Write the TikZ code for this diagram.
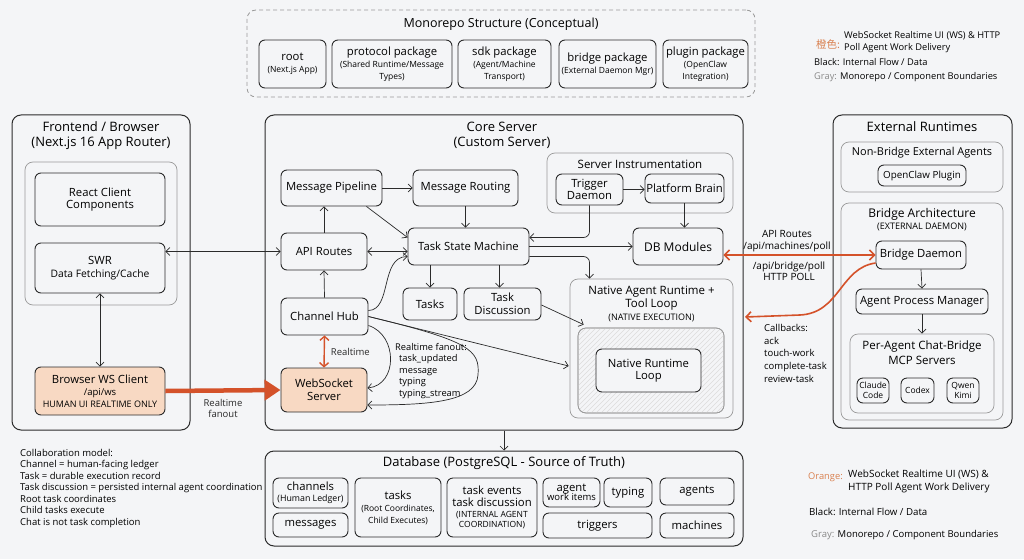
\documentclass[tikz,border=0pt]{standalone}
\usepackage{fontspec}
\setmainfont{Open Sans}
\newfontfamily\cjk{Noto Sans CJK SC}
\usepackage{xcolor}
\usetikzlibrary{arrows.meta,calc}
\definecolor{bgcol}{HTML}{F4F5F7}
\definecolor{linecol}{HTML}{2B2B2B}
\definecolor{grpcol}{HTML}{9A9A9A}
\definecolor{orng}{HTML}{D4522A}
\definecolor{orngtxt}{HTML}{D9804F}
\definecolor{peachcol}{HTML}{F8D9C3}
\definecolor{graytxt}{HTML}{8A8A8A}
\newcommand{\smalltxt}[1]{{\fontsize{8.5}{9.2}\selectfont #1}}
\newcommand{\midtxt}[1]{{\fontsize{9.5}{10.5}\selectfont #1}}

\begin{document}
\begin{tikzpicture}[x=1pt,y=-1pt,
  box/.style={draw=linecol, fill=bgcol, rounded corners=6pt, align=center, inner sep=1pt,
    line width=0.9pt, font=\fontsize{11.3}{12.5}\selectfont},
  peach/.style={box, fill=peachcol},
  grp/.style={draw=grpcol, rounded corners=8pt, line width=0.7pt},
  outer/.style={draw=linecol, rounded corners=9pt, line width=1pt},
  dashgrp/.style={draw=grpcol, rounded corners=9pt, line width=0.8pt, dash pattern=on 4pt off 3pt},
  hdr/.style={font=\fontsize{13}{14}\selectfont, inner sep=0pt},
  subhdr/.style={font=\fontsize{11.5}{13}\selectfont, inner sep=0pt},
  arr/.style={draw=linecol, line width=0.7pt, -{Straight Barb[length=4pt,width=8pt]}},
  oarr/.style={draw=orng, line width=1.6pt, -{Straight Barb[length=5pt,width=10pt]}},
  lbl/.style={font=\fontsize{9.5}{11}\selectfont, inner sep=0pt},
]
\useasboundingbox (0,0) rectangle (1024,559);
\fill[bgcol] (0,0) rectangle (1024,559);

% monorepo
\node[dashgrp, minimum width=508, minimum height=87] (mono) at (501,53.5) {};
\node[hdr, font=\fontsize{12.5}{14}\selectfont] (monot) at (501,24) {Monorepo Structure (Conceptual)};
\node[box, minimum width=67, minimum height=48] (root) at (292.5,64) {root\\\smalltxt{(Next.js App)}};
\node[box, minimum width=120, minimum height=48] (protocol) at (392,64) {protocol package\\\smalltxt{(Shared Runtime/Message}\\[-1pt]\smalltxt{Types)}};
\node[box, minimum width=93, minimum height=48] (sdk) at (504.5,64) {sdk package\\\smalltxt{(Agent/Machine}\\[-1pt]\smalltxt{Transport)}};
\node[box, minimum width=97, minimum height=48] (bridgepkg) at (607.5,64) {bridge package\\\smalltxt{(External Daemon Mgr)}};
\node[box, minimum width=85, minimum height=48] (plugin) at (705.5,64) {plugin package\\\smalltxt{(OpenClaw}\\[-1pt]\smalltxt{Integration)}};

% legend top
\node[lbl, anchor=west, text=orngtxt, font=\fontsize{10.5}{12}\selectfont] at (816,44) {\cjk 橙色:};
\node[lbl, anchor=north west, align=left, font=\fontsize{9.3}{12.5}\selectfont] at (844,31) {WebSocket Realtime UI (WS) \& HTTP\\Poll Agent Work Delivery};
\node[lbl, anchor=west, font=\fontsize{9.3}{11}\selectfont] at (814,62) {Black: Internal Flow / Data};
\node[lbl, anchor=west, font=\fontsize{9.3}{11}\selectfont] at (814,77) {\textcolor{graytxt}{Gray:} Monorepo / Component Boundaries};

% frontend
\node[outer, minimum width=178, minimum height=315] (front) at (101,272.5) {};
\node[hdr] at (101,127) {Frontend / Browser};
\node[hdr] at (101,143) {(Next.js 16 App Router)};
\node[grp, minimum width=152, minimum height=143] (fgrp) at (101,233.5) {};
\node[box, minimum width=130, minimum height=53] (react) at (100,199.5) {React Client\\Components};
\node[box, minimum width=130, minimum height=50] (swr) at (100,268) {SWR\\{\fontsize{10.3}{11.5}\selectfont Data Fetching/Cache}};
\node[peach, minimum width=130, minimum height=48] (wsc) at (100,391) {Browser WS Client\\\midtxt{/api/ws}\\[-1pt]{\fontsize{9}{10}\selectfont HUMAN UI REALTIME ONLY}};

% core server
\node[outer, minimum width=478, minimum height=315] (core) at (504,272.5) {};
\node[hdr] at (502,127) {Core Server};
\node[hdr] at (502,143) {(Custom Server)};
\node[box, minimum width=101, minimum height=36] (mp) at (331.5,188) {Message Pipeline};
\node[box, minimum width=105, minimum height=36] (mr) at (465.5,188) {Message Routing};
\node[box, minimum width=86, minimum height=37] (api) at (324,251.5) {API Routes};
\node[box, minimum width=121, minimum height=37] (tsm) at (468.5,246.5) {Task State Machine};
\node[box, minimum width=54, minimum height=32] (tasks) at (430,304) {Tasks};
\node[box, minimum width=77, minimum height=32] (td) at (502.5,304) {Task\\Discussion};
\node[box, minimum width=87, minimum height=37] (ch) at (324.5,316.5) {Channel Hub};
\node[peach, minimum width=86, minimum height=44] (wss) at (324,390) {WebSocket\\Server};

\node[grp, minimum width=186, minimum height=60] (instr) at (640,183) {};
\node[subhdr] at (640,164) {Server Instrumentation};
\node[box, minimum width=67, minimum height=31] (trig) at (589.5,189.5) {Trigger\\Daemon};
\node[box, minimum width=79, minimum height=29] (pb) at (684.5,188.5) {Platform Brain};
\node[box, minimum width=90, minimum height=37, font=\fontsize{12}{13}\selectfont] (db) at (678,246.5) {DB Modules};

\node[grp, minimum width=163, minimum height=139] (nat) at (651.5,348.5) {};
\node[subhdr] at (651.5,292) {Native Agent Runtime +};
\node[subhdr] at (651.5,305) {Tool Loop};
\node[inner sep=0pt] at (651.5,318) {{\fontsize{9}{10}\selectfont (NATIVE EXECUTION)}};
\node[grp, fill=bgcol, minimum width=146, minimum height=85] (natin) at (651,370.5) {};
\begin{scope}
\clip[rounded corners=8pt] (natin.north west) rectangle (natin.south east);
\foreach \hx in {485,490,...,730}
  \draw[grpcol!35, line width=0.4pt] (\hx,414) -- (\hx+90,324);
\end{scope}
\node[grp, minimum width=146, minimum height=85] at (natin) {};
\node[box, minimum width=105, minimum height=43] (nrl) at (648.5,370.5) {Native Runtime\\Loop};

% external runtimes
\node[outer, minimum width=179, minimum height=313] (ext) at (922.5,271.5) {};
\node[hdr] at (922,127) {External Runtimes};
\node[grp, minimum width=162, minimum height=50] (nonbr) at (922,167) {};
\node[subhdr, font=\fontsize{10.9}{12}\selectfont] at (922,153) {Non-Bridge External Agents};
\node[box, minimum width=88, minimum height=21, font=\fontsize{9.8}{11}\selectfont] (ocp) at (922,175.5) {OpenClaw Plugin};
\node[grp, minimum width=162, minimum height=217] (brarch) at (922,311.5) {};
\node[subhdr, font=\fontsize{12}{13}\selectfont] at (922,214) {Bridge Architecture};
\node[inner sep=0pt] at (922,227) {{\fontsize{9}{10}\selectfont (EXTERNAL DAEMON)}};
\node[box, minimum width=90, minimum height=28] (bd) at (921,255) {Bridge Daemon};
\node[box, minimum width=132, minimum height=25] (apm) at (922,301.5) {Agent Process Manager};
\node[grp, minimum width=144, minimum height=79] (peragent) at (922,373.5) {};
\node[subhdr] at (922,347) {Per-Agent Chat-Bridge};
\node[subhdr] at (922,360) {MCP Servers};
\node[box, minimum width=32, minimum height=25, font=\fontsize{8.5}{9.5}\selectfont] (claude) at (873,390.5) {Claude\\Code};
\node[box, minimum width=33, minimum height=25, font=\fontsize{8.5}{9.5}\selectfont] (codex) at (917.5,390.5) {Codex};
\node[box, minimum width=32, minimum height=25, font=\fontsize{8.5}{9.5}\selectfont] (qwen) at (963,390.5) {Qwen\\Kimi};

% database
\node[outer, minimum width=478, minimum height=95] (dbase) at (504,498.5) {};
\node[hdr] at (504,463) {Database (PostgreSQL - Source of Truth)};
\node[box, minimum width=75, minimum height=30] (channels) at (310.5,493) {channels\\[-2pt]{\fontsize{8.8}{9.5}\selectfont (Human Ledger)}};
\node[box, minimum width=75, minimum height=24] (messages) at (310.5,525) {messages};
\node[box, minimum width=86, minimum height=59] (taskstbl) at (398,507.5) {tasks\\\smalltxt{(Root Coordinates,}\\[-1pt]\smalltxt{Child Executes)}};
\node[box, minimum width=90, minimum height=59] (tev) at (492,507.5) {task events\\task discussion\\[-2pt]\smalltxt{(INTERNAL AGENT}\\[-2pt]\smalltxt{COORDINATION)}};
\node[box, minimum width=57, minimum height=29] (awi) at (571.5,492.5) {agent\\[-3pt]\midtxt{work items}};
\node[box, minimum width=48, minimum height=29] (typing) at (628,492.5) {typing};
\node[box, minimum width=74, minimum height=27] (agents) at (697,491.5) {agents};
\node[box, minimum width=109, minimum height=25] (triggers) at (597.5,525.5) {triggers};
\node[box, minimum width=74, minimum height=25] (machines) at (697,525.5) {machines};

% notes
\node[anchor=north west, align=left, inner sep=0pt, font=\fontsize{9.5}{11.5}\selectfont] (collab) at (20,449) {Collaboration model:\\Channel = human-facing ledger\\Task = durable execution record\\Task discussion = persisted internal agent coordination\\Root task coordinates\\Child tasks execute\\Chat is not task completion};
\node[lbl, anchor=west, text=orngtxt, font=\fontsize{9.3}{11}\selectfont] at (808,477) {Orange:};
\node[lbl, anchor=north west, align=left, font=\fontsize{10}{13}\selectfont] at (848,470) {WebSocket Realtime UI (WS) \&\\HTTP Poll Agent Work Delivery};
\node[lbl, anchor=west, font=\fontsize{9.7}{11}\selectfont] at (809,512) {Black: Internal Flow / Data};
\node[lbl, anchor=west, font=\fontsize{9.5}{11}\selectfont] at (811,535) {\textcolor{graytxt}{Gray:} Monorepo / Component Boundaries};

% frontend arrows
\draw[arr, {Straight Barb[length=4pt,width=8pt]}-{Straight Barb[length=4pt,width=8pt]}] (swr.south) -- (wsc.north);
\draw[arr, {Straight Barb[length=4pt,width=8pt]}-{Straight Barb[length=4pt,width=8pt]}] (swr.east |- api.west) -- (api.west);
\draw[draw=orng, line width=4.5pt, -{Triangle[length=16pt,width=20pt]}] (wsc.east) -- (wss.west)
  node[midway, below=7pt, lbl, align=center, text=linecol] {Realtime\\fanout};

% core arrows
\draw[arr] (ch.north) -- (api.south);
\draw[arr] (api.north) -- (api.north |- mp.south);
\draw[arr] (mp.east) -- (mr.west);
\draw[arr] ($(mp.south east)+(-16,0)$) -- ($(tsm.west)+(0,-9)$);
\draw[arr] (mr.south) -- (mr.south |- tsm.north);
\draw[arr, {Straight Barb[length=4pt,width=8pt]}-{Straight Barb[length=4pt,width=8pt]}] (api.east) -- (api.east -| tsm.west);
\draw[arr] ($(ch.east)+(0,-6)$) .. controls (392,310) and (380,257) .. ($(tsm.west)+(0,10)$);
\draw[arr] (tasks.north |- tsm.south) -- (tasks.north);
\draw[arr] ($(td.north |- tsm.south)+(-3,0)$) -- ($(td.north)+(-3,0)$);
\draw[arr, rounded corners=6pt] (trig.south) |- ($(tsm.east)+(0,-9)$);
\draw[arr] (trig.east) -- (trig.east -| pb.west);
\draw[arr] (pb.south) -- (pb.south |- db.north);
\draw[arr] (tsm.east) -- (db.west);
\draw[arr, rounded corners=6pt] ($(tsm.east)+(0,10)$) -| (trig.south |- nat.north);
\draw[arr] ($(td.east)+(0,1)$) -- ($(natin.north west)+(6,-3)$);
\draw[arr] (ch.east) -- ($(nat.west)+(-1,17.5)$);
\draw[draw=orng, line width=1.4pt, {Straight Barb[length=4pt,width=9pt]}-{Straight Barb[length=4pt,width=9pt]}] (ch.south) -- (wss.north)
  node[midway, right=6pt, lbl, text=linecol] {Realtime};
\draw[arr] ($(ch.east)+(0,9)$) .. controls (398,335) and (398,385) .. ($(wss.east)+(0,-2)$);
\draw[arr] (ch.east) .. controls (470,341) and (480,350) .. (478,375) .. controls (476,402) and (430,405) .. ($(wss.east)+(0,15)$);
\node[anchor=north west, align=left, inner sep=0pt, font=\fontsize{9.3}{11.5}\selectfont] (fanout) at (395,343)
  {Realtime fanout:\\\hspace*{4pt}task\_updated\\\hspace*{4pt}message\\\hspace*{4pt}typing\\\hspace*{4pt}typing\_stream};
\draw[arr] (core.south) -- (core.south |- dbase.north);

% external arrows
\draw[arr] (bd.south) -- (apm.north);
\draw[arr] (apm.south) -- (peragent.north);
\draw[oarr, {Straight Barb[length=5pt,width=10pt]}-{Straight Barb[length=5pt,width=10pt]}] (db.east |- bd.west) -- (bd.west);
\node[lbl, align=center, font=\fontsize{10}{12}\selectfont] at (787,241) {API Routes\\/api/machines/poll};
\node[lbl, align=center, font=\fontsize{10}{11}\selectfont] at (789,271) {/api/bridge/poll\\HTTP POLL};
\coordinate (cbend) at (745,317);
\draw[oarr] ($(bd.west)+(0,8)$) .. controls (840,268) and (840,313) .. (800,315) -- (cbend);
\node[lbl, anchor=north west, align=left, font=\fontsize{9.5}{12.7}\selectfont] at (764,324) {Callbacks:\\ack\\touch-work\\complete-task\\review-task};
\end{tikzpicture}
\end{document}
